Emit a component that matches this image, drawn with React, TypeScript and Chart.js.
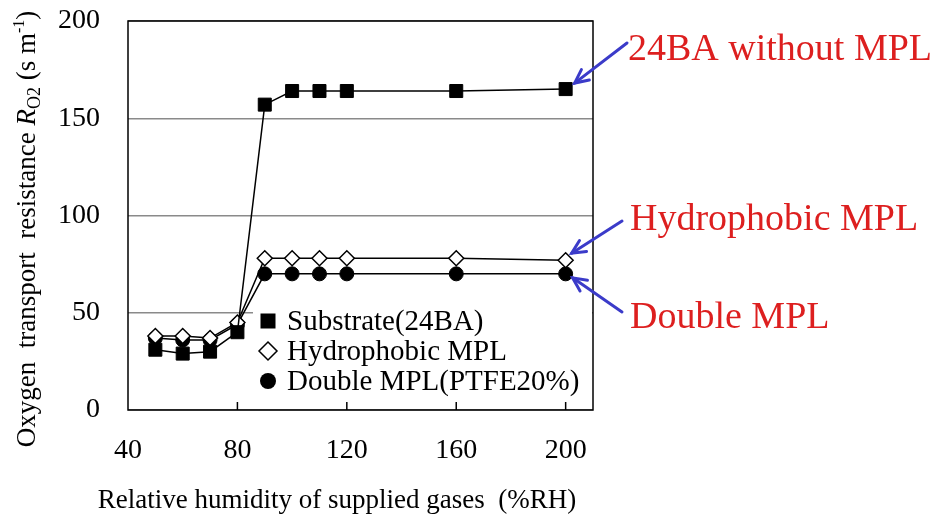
import React, { useEffect, useRef } from "react";
import { Chart, registerables } from "chart.js";

Chart.register(...registerables);

// ---- data ----
const humidity = [50, 60, 70, 80, 90, 100, 110, 120, 160, 200];
const substrate = [31, 29, 30, 40, 157, 164, 164, 164, 164, 165];
const hydrophobic = [38, 38, 37, 45, 78, 78, 78, 78, 78, 77];
const doubleMpl = [37, 36, 36, 44, 70, 70, 70, 70, 70, 70];
const xTicks = [40, 80, 120, 160, 200];
const yTicks = [0, 50, 100, 150, 200];
const seriesLabels = ["Substrate(24BA)", "Hydrophobic MPL", "Double MPL(PTFE20%)"];
const calloutLabels = ["24BA without MPL", "Hydrophobic MPL", "Double MPL"];
const xTitle = "Relative humidity of supplied gases  (%RH)";

const SERIF = "'Liberation Serif', 'Times New Roman', serif";

const decorPlugin = {
  id: "decor",
  afterDraw(chart: any) {
    const { ctx, chartArea: a, scales } = chart;
    const xs = scales.x;
    const ys = scales.y;
    ctx.save();

    // legend box (white background covering gridline)
    const lgLeft = a.left + 125;
    ctx.fillStyle = "#ffffff";
    ctx.fillRect(lgLeft, a.top + 289, a.right - lgLeft - 1, 91);

    const markerX = a.left + 140;
    const textX = a.left + 159;
    const row0 = a.top + 300;
    seriesLabels.forEach((lab, i) => {
      const cy = row0 + i * 30;
      ctx.lineWidth = 1.5;
      ctx.strokeStyle = "#000";
      ctx.fillStyle = "#000";
      if (i === 0) {
        ctx.fillRect(markerX - 7.5, cy - 7.5, 15, 15);
      } else if (i === 1) {
        ctx.beginPath();
        ctx.moveTo(markerX, cy - 9);
        ctx.lineTo(markerX + 9, cy);
        ctx.lineTo(markerX, cy + 9);
        ctx.lineTo(markerX - 9, cy);
        ctx.closePath();
        ctx.fillStyle = "#fff";
        ctx.fill();
        ctx.stroke();
      } else {
        ctx.beginPath();
        ctx.arc(markerX, cy, 8, 0, Math.PI * 2);
        ctx.fill();
      }
      ctx.fillStyle = "#000";
      ctx.font = `29px ${SERIF}`;
      ctx.textAlign = "left";
      ctx.textBaseline = "alphabetic";
      ctx.fillText(lab, textX, cy + 9);
    });

    // frame
    ctx.strokeStyle = "#000";
    ctx.lineWidth = 1.5;
    ctx.strokeRect(a.left, a.top, a.right - a.left, a.bottom - a.top);

    // inward x tick marks
    xTicks.forEach((v) => {
      const px = xs.getPixelForValue(v);
      if (Math.abs(px - a.left) < 2) return;
      ctx.beginPath();
      ctx.moveTo(px, a.bottom);
      ctx.lineTo(px, a.bottom - 8);
      ctx.stroke();
    });

    // x title
    ctx.fillStyle = "#000";
    ctx.font = `27px ${SERIF}`;
    ctx.textAlign = "center";
    ctx.textBaseline = "alphabetic";
    ctx.fillText(xTitle, 337, 508);

    // y title (rotated, with italic R, subscript O2 and superscript -1)
    const pieces: [string, string, number][] = [
      ["Oxygen  transport  resistance ", `27px ${SERIF}`, 0],
      ["R", `italic 27px ${SERIF}`, 0],
      ["O2", `18px ${SERIF}`, 5],
      [" (s m", `27px ${SERIF}`, 0],
      ["-1", `16px ${SERIF}`, -11],
      [")", `27px ${SERIF}`, 0],
    ];
    let total = 0;
    pieces.forEach(([t, f]) => {
      ctx.font = f;
      total += ctx.measureText(t).width;
    });
    ctx.translate(35, 229);
    ctx.rotate(-Math.PI / 2);
    ctx.textAlign = "left";
    let cx = -total / 2;
    pieces.forEach(([t, f, dy]) => {
      ctx.font = f;
      ctx.fillText(t, cx, dy);
      cx += ctx.measureText(t).width;
    });
    ctx.setTransform(1, 0, 0, 1, 0, 0);

    // callouts
    const series = [substrate, hydrophobic, doubleMpl];
    const textPos = [
      [628, 60],
      [630, 230],
      [630, 328],
    ];
    const tipOff = [
      [9, -6],
      [6, -7],
      [7, 4],
    ];
    const tails = [
      [627, 43],
      [622, 221],
      [622, 312],
    ];
    const last = humidity.length - 1;
    series.forEach((s, i) => {
      const px = xs.getPixelForValue(humidity[last]) + tipOff[i][0];
      const py = ys.getPixelForValue(s[last]) + tipOff[i][1];
      const [tx, ty] = tails[i];
      ctx.strokeStyle = "#3b3bc9";
      ctx.lineWidth = 3;
      ctx.lineCap = "round";
      ctx.beginPath();
      ctx.moveTo(tx, ty);
      ctx.lineTo(px, py);
      ctx.stroke();
      const ang = Math.atan2(ty - py, tx - px);
      const hl = 15;
      const spread = 0.45;
      ctx.beginPath();
      ctx.moveTo(px + hl * Math.cos(ang + spread), py + hl * Math.sin(ang + spread));
      ctx.lineTo(px, py);
      ctx.lineTo(px + hl * Math.cos(ang - spread), py + hl * Math.sin(ang - spread));
      ctx.stroke();

      ctx.fillStyle = "#dd1f1f";
      ctx.font = `38px ${SERIF}`;
      ctx.textAlign = "left";
      ctx.textBaseline = "alphabetic";
      ctx.fillText(calloutLabels[i], textPos[i][0], textPos[i][1]);
    });

    ctx.restore();
  },
};

export default function App() {
  const ref = useRef<HTMLCanvasElement | null>(null);

  useEffect(() => {
    if (!ref.current) return;
    const mk = (vals: number[]) => humidity.map((x, i) => ({ x, y: vals[i] }));
    const chart = new Chart(ref.current, {
      type: "line",
      data: {
        datasets: [
          {
            label: seriesLabels[0],
            data: mk(substrate),
            borderColor: "#000",
            backgroundColor: "#000",
            borderWidth: 1.5,
            pointStyle: "rect",
            pointRadius: 9.2,
            pointBackgroundColor: "#000",
            pointBorderColor: "#000",
            pointBorderWidth: 1,
          },
          {
            label: seriesLabels[1],
            data: mk(hydrophobic),
            borderColor: "#000",
            backgroundColor: "#fff",
            borderWidth: 1.5,
            pointStyle: "rectRot",
            pointRadius: 7.5,
            pointBackgroundColor: "#fff",
            pointBorderColor: "#000",
            pointBorderWidth: 1.5,
          },
          {
            label: seriesLabels[2],
            data: mk(doubleMpl),
            borderColor: "#000",
            backgroundColor: "#000",
            borderWidth: 1.5,
            pointStyle: "circle",
            pointRadius: 7,
            pointBackgroundColor: "#000",
            pointBorderColor: "#000",
            pointBorderWidth: 1,
          },
        ],
      },
      options: {
        animation: false,
        responsive: false,
        layout: { padding: { left: 0, top: 21, right: 342, bottom: 0 } },
        plugins: {
          legend: { display: false },
          tooltip: { enabled: false },
          title: { display: false },
        },
        scales: {
          x: {
            type: "linear",
            min: 40,
            max: 210,
            afterBuildTicks: (s: any) => {
              s.ticks = xTicks.map((v) => ({ value: v }));
            },
            afterFit: (s: any) => {
              s.height = 105;
              s.paddingLeft = 0;
              s.paddingRight = 0;
              s.paddingTop = 0;
              s.paddingBottom = 0;
            },
            grid: { display: false, drawTicks: false },
            border: { display: false },
            ticks: {
              color: "#000",
              font: { family: SERIF, size: 28 },
              padding: 24,
              maxRotation: 0,
              autoSkip: false,
            },
          },
          y: {
            type: "linear",
            min: 0,
            max: 200,
            afterBuildTicks: (s: any) => {
              s.ticks = yTicks.map((v) => ({ value: v }));
            },
            afterFit: (s: any) => {
              s.width = 128;
              s.paddingLeft = 0;
              s.paddingRight = 0;
              s.paddingTop = 0;
              s.paddingBottom = 0;
            },
            grid: { color: "#8a8a8a", lineWidth: 1.5, drawTicks: false },
            border: { display: false },
            ticks: {
              color: "#000",
              font: { family: SERIF, size: 28 },
              padding: 28,
            },
          },
        },
      },
      plugins: [decorPlugin],
    });
    return () => chart.destroy();
  }, []);

  return (
    <div
      style={{
        position: "fixed",
        left: 0,
        top: 0,
        width: 935,
        height: 515,
        background: "#fff",
      }}
    >
      <canvas ref={ref} width={935} height={515} style={{ display: "block" }} />
    </div>
  );
}
